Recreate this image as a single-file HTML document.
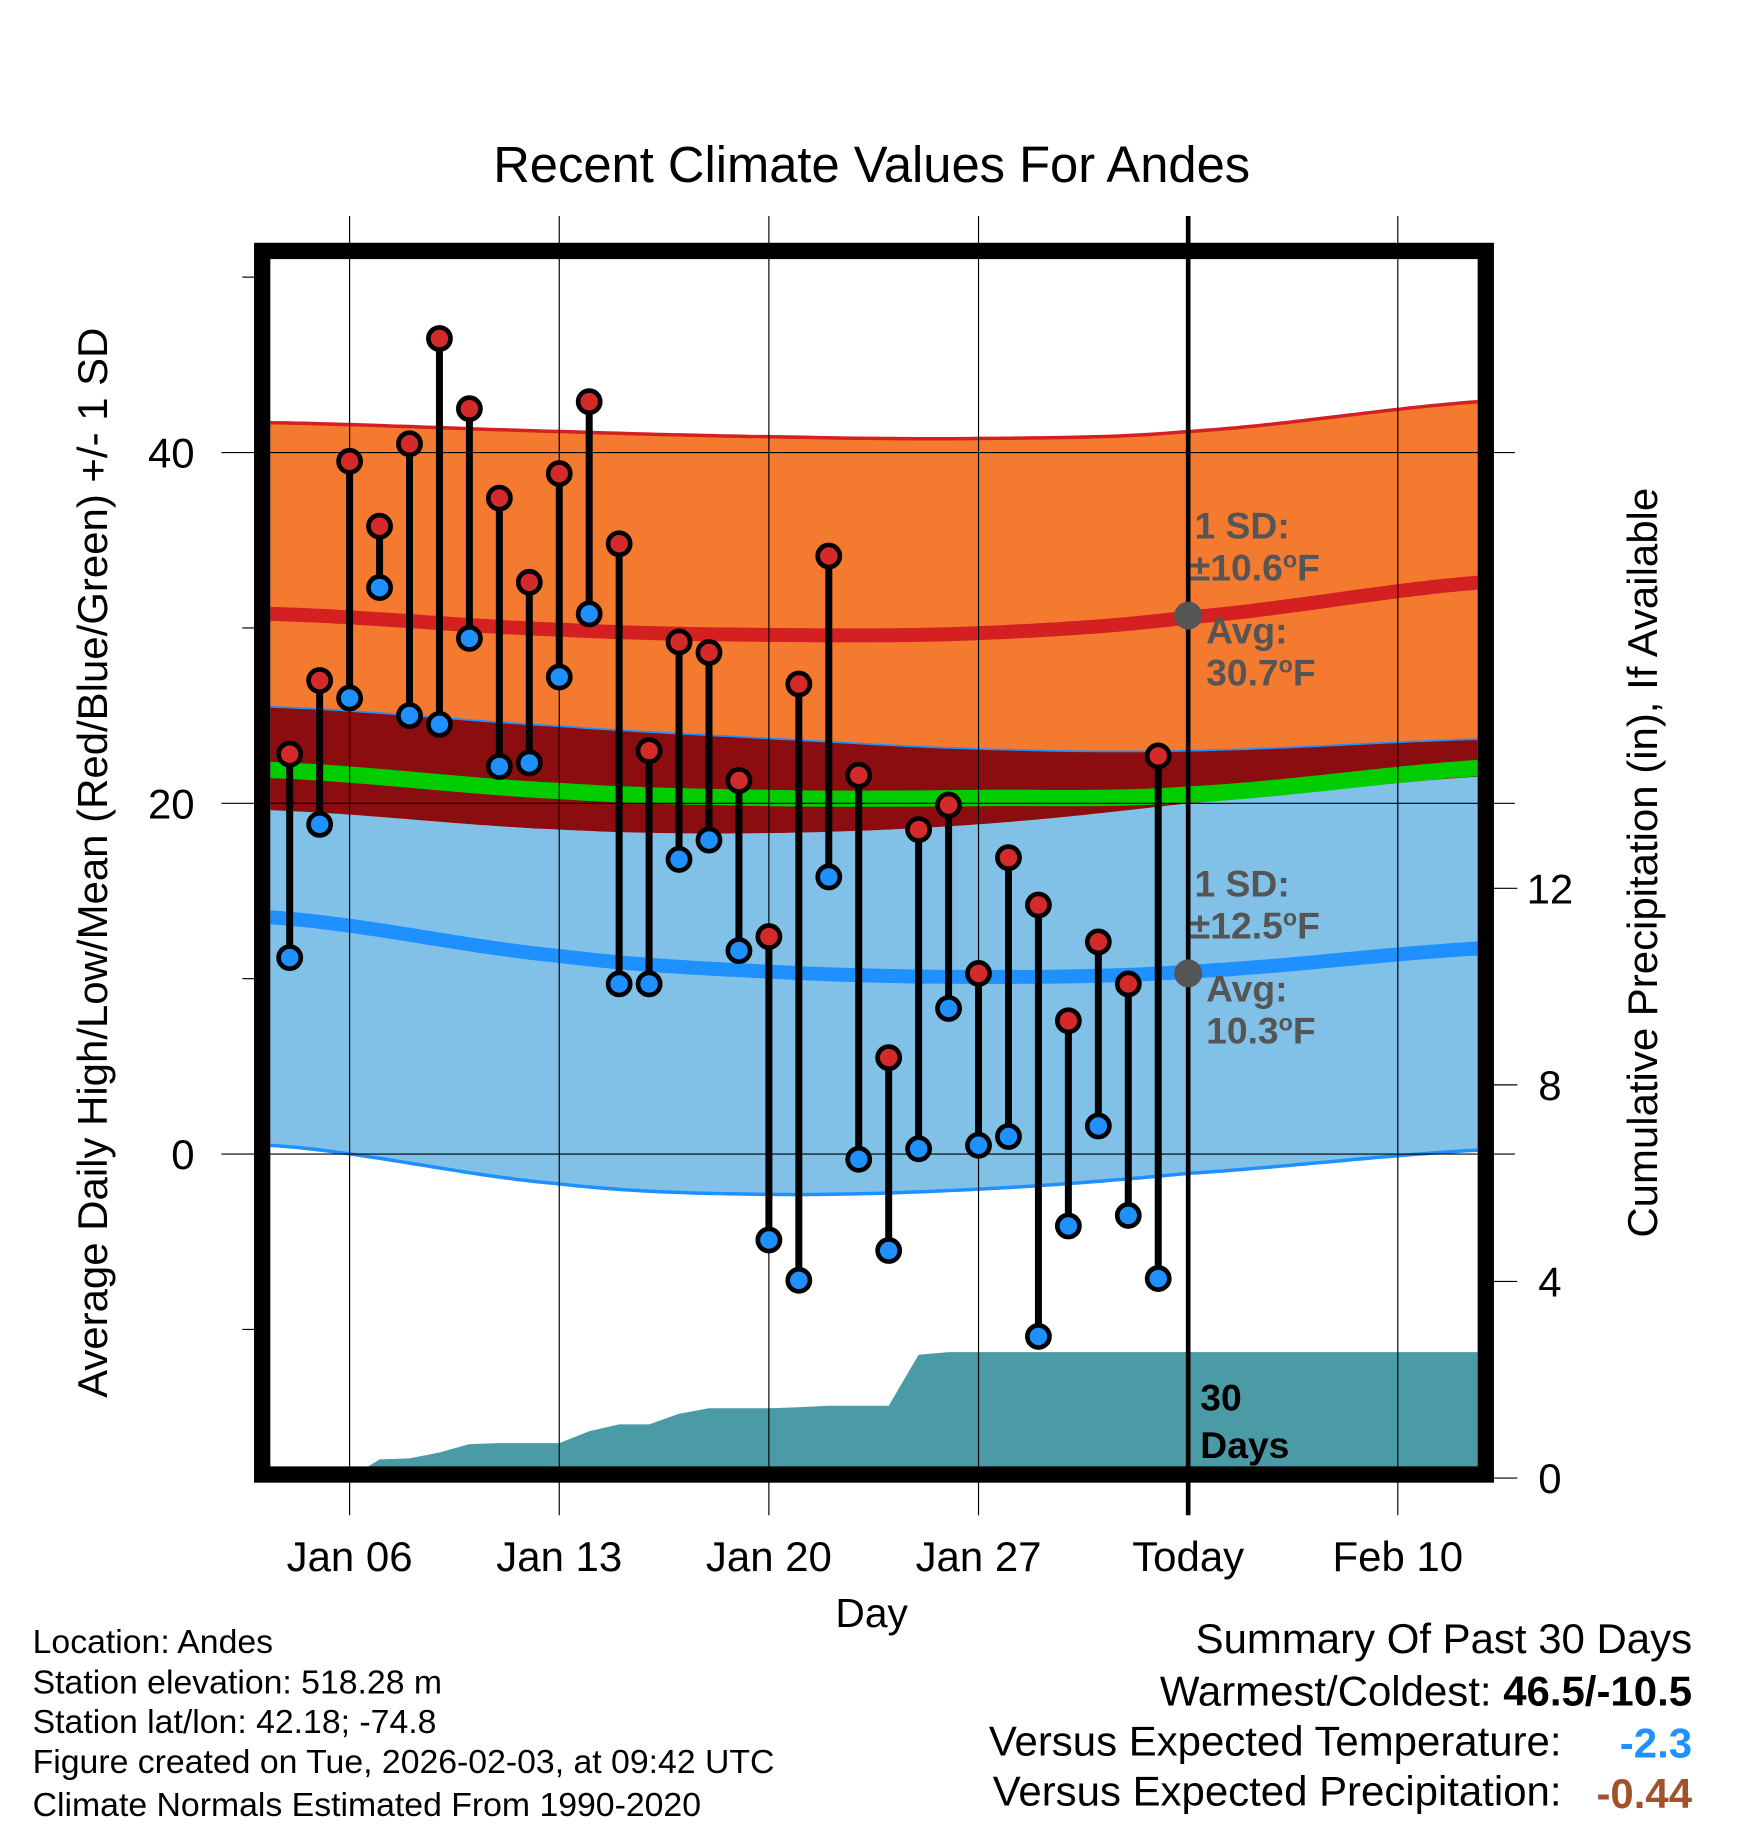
<!DOCTYPE html>
<html><head><meta charset="utf-8">
<style>html,body{margin:0;padding:0;background:#fff}svg{display:block}text{font-family:"Liberation Sans",Arial,sans-serif}</style>
</head><body>
<svg id="chart" width="1748" height="1828" viewBox="0 0 1500 1568" xmlns="http://www.w3.org/2000/svg">
<text x="748" y="156" font-size="43.5" text-anchor="middle">Recent Climate Values For Andes</text>
<defs><clipPath id="plotclip"><rect x="232" y="222" width="1036" height="1038"/></clipPath></defs>
<g id="bands" clip-path="url(#plotclip)"></g>
<g id="grid"></g>
<g id="marks"></g>
<g id="annot"></g>
<rect x="225" y="215" width="1050" height="1050" fill="none" stroke="#000" stroke-width="14"/>
<g id="axes"></g>
<text transform="translate(92,740) rotate(-90)" font-size="36" text-anchor="middle">Average Daily High/Low/Mean (Red/Blue/Green) +/- 1 SD</text>
<text transform="translate(1422,740) rotate(-90)" font-size="36" text-anchor="middle">Cumulative Precipitation (in), If Available</text>
<text x="748" y="1396" font-size="35" text-anchor="middle">Day</text>
<g font-size="29">
<text x="28" y="1418">Location: Andes</text>
<text x="28" y="1453">Station elevation: 518.28 m</text>
<text x="28" y="1487">Station lat/lon: 42.18; -74.8</text>
<text x="28" y="1521">Figure created on Tue, 2026-02-03, at 09:42 UTC</text>
<text x="28" y="1558">Climate Normals Estimated From 1990-2020</text>
</g>
<g font-size="36">
<text x="1452" y="1418" text-anchor="end">Summary Of Past 30 Days</text>
<text x="1452" y="1463" text-anchor="end">Warmest/Coldest: <tspan font-weight="bold">46.5/-10.5</tspan></text>
<text x="1340" y="1506" text-anchor="end">Versus Expected Temperature:</text>
<text x="1452" y="1508" text-anchor="end" font-weight="bold" fill="#1e90ff">-2.3</text>
<text x="1340" y="1549" text-anchor="end">Versus Expected Precipitation:</text>
<text x="1452" y="1551" text-anchor="end" font-weight="bold" fill="#a0522d">-0.44</text>
</g>
</svg>
<script>
// Observed data: day offset from Jan 04
const highs=[22.8,27.0,39.5,35.8,40.5,46.5,42.5,37.4,32.6,38.8,42.9,34.8,23.0,29.2,28.6,21.3,12.4,26.8,34.1,21.6,5.5,18.5,19.9,10.3,16.9,14.2,7.6,12.1,9.7,22.7];
const lows=[11.2,18.8,26.0,32.3,25.0,24.5,29.4,22.1,22.3,27.2,30.8,9.7,9.7,16.8,17.9,11.6,-4.9,-7.2,15.8,-0.3,-5.5,0.3,8.3,0.5,1.0,-10.4,-4.1,1.6,-3.5,-7.1];
// precipitation cumulative (days from Jan 04 through Feb 13)
const precip=[0,0,0,0.38,0.40,0.52,0.69,0.71,0.71,0.71,0.95,1.09,1.09,1.31,1.42,1.42,1.42,1.44,1.47,1.47,1.47,2.51,2.56,2.56,2.56,2.56,2.56,2.56,2.56,2.56,2.56,2.56,2.56,2.56,2.56,2.56,2.56,2.56,2.56,2.56,2.56,2.56];
// Normals sampled at day offsets (from Jan 04)
const normDays=[-0.65,9,16,23,30,40.65];
const hiUpper=[41.7,41.2,40.9,40.8,41.2,43.0];
const hiMean=[30.8,29.9,29.6,29.7,30.6,32.7];
const hiLower=[25.5,24.4,23.7,23.1,23.0,23.7];
const meanT=[21.9,20.7,20.3,20.3,20.5,22.1];
const loUpper=[19.6,18.5,18.3,18.8,20.0,21.6];
const loMean=[13.5,11.3,10.4,10.1,10.4,11.8];
const loLower=[0.5,-1.7,-2.3,-2.0,-1.1,0.3];
const xTickDays=[2,9,16,23,30,37];
const xTickLabels=["Jan 06","Jan 13","Jan 20","Jan 27","Today","Feb 10"];
const yTicks=[0,20,40];
const yMinor=[-10,10,30,50];
const y2Ticks=[0,4,8,12];

const NS="http://www.w3.org/2000/svg";
const X=d=>248.6+d*25.7;
const Y=v=>990-v*15.05;
const Y2=p=>1268-p*42.17;
function el(tag,attrs,parent){const e=document.createElementNS(NS,tag);for(const k in attrs)e.setAttribute(k,attrs[k]);parent.appendChild(e);return e;}
const bands=document.getElementById('bands'),grid=document.getElementById('grid'),marks=document.getElementById('marks'),annot=document.getElementById('annot'),axes=document.getElementById('axes');
function interp(arr,d){let i=0;while(i<normDays.length-2&&d>normDays[i+1])i++;
 const t=Math.min(Math.max((d-normDays[i])/(normDays[i+1]-normDays[i]),0),1);
 const p0=arr[Math.max(i-1,0)],p1=arr[i],p2=arr[i+1],p3=arr[Math.min(i+2,arr.length-1)];
 const t2=t*t,t3=t2*t;
 return 0.5*((2*p1)+(-p0+p2)*t+(2*p0-5*p1+4*p2-p3)*t2+(-p0+3*p1-3*p2+p3)*t3);}
function smooth(arr){const pts=[];for(let d=-0.65;d<=40.66;d+=0.25){pts.push([X(d),Y(interp(arr,d))]);}return pts;}
function area(a,b,fill,name){const p=smooth(a),q=smooth(b).reverse();const e=el('path',{d:'M'+p.concat(q).map(x=>x[0].toFixed(1)+','+x[1].toFixed(1)).join('L')+'Z',fill:fill},bands);}
function line(a,color,w,name){const p=smooth(a);const e=el('path',{d:'M'+p.map(x=>x[0].toFixed(1)+','+x[1].toFixed(1)).join('L'),fill:'none',stroke:color,'stroke-width':w},bands);}
area(hiUpper,hiLower,'#f47a30','high-sd-band');
area(loUpper,loLower,'#82c1e7','low-sd-band');
area(hiLower,loUpper,'#8c0d0f','overlap-band');
line(hiUpper,'#d42020',3,'high-upper-line');
line(hiLower,'#1e90ff',1.5,'high-lower-line');
line(loLower,'#1e90ff',3,'low-lower-line');
line(hiMean,'#d42020',12,'high-mean-line');
line(loMean,'#1e90ff',12,'low-mean-line');
line(meanT,'#00cc00',14,'mean-temp-line');
// precipitation area
{let pts=[[X(-0.65),1268]];precip.forEach((p,i)=>pts.push([X(i),Y2(p)]));pts.push([X(40.65),Y2(precip[precip.length-1])]);pts.push([X(40.65),1268]);
const e=el('path',{d:'M'+pts.map(x=>x[0].toFixed(1)+','+x[1].toFixed(1)).join('L')+'Z',fill:'#4a9ba5'},bands);

}
// grid
xTickDays.forEach((d,i)=>{const e=el('line',{x1:X(d),x2:X(d),y1:185,y2:1300,stroke:'#000','stroke-width':d===30?4:1},grid);


const t=el('text',{x:X(d),y:1348,'font-size':36,'text-anchor':'middle'},axes);t.textContent=xTickLabels[i];

});
yTicks.forEach(v=>{const e=el('line',{x1:190,x2:1300,y1:Y(v),y2:Y(v),stroke:'#000','stroke-width':1},grid);


const t=el('text',{x:167,y:Y(v)+13,'font-size':36,'text-anchor':'end'},axes);t.textContent=v;

});
yMinor.forEach(v=>{const e=el('line',{x1:208,x2:218,y1:Y(v),y2:Y(v),stroke:'#000','stroke-width':1},axes);

});
y2Ticks.forEach(p=>{const e=el('line',{x1:1282,x2:1302,y1:Y2(p),y2:Y2(p),stroke:'#000','stroke-width':1},axes);


const t=el('text',{x:1330,y:Y2(p)+13,'font-size':36,'text-anchor':'middle'},axes);t.textContent=p;

});
// stems and dots
highs.forEach((h,i)=>{const e=el('line',{x1:X(i),x2:X(i),y1:Y(h),y2:Y(lows[i]),stroke:'#000','stroke-width':6},marks);

});
highs.forEach((h,i)=>{const a=el('circle',{cx:X(i),cy:Y(h),r:9.5,fill:'#d42a2a',stroke:'#000','stroke-width':4},marks);


const b=el('circle',{cx:X(i),cy:Y(lows[i]),r:9.5,fill:'#1e90ff',stroke:'#000','stroke-width':4},marks);

});
// annotations
function txt(x,y,s,fill,name,size){const t=el('text',{x:x,y:y,'font-size':size||32,'font-weight':'bold',fill:fill},annot);t.innerHTML=s;

}
[[30.7,10.6,'high'],[10.3,12.5,'low']].forEach(([avg,sd,n])=>{const cy=Y(avg);
const c=el('circle',{cx:X(30),cy:cy,r:12,fill:'#555'},annot);


txt(1025,cy-66,'1 SD:','#555',n+'-sd-label');
txt(1021,cy-30,'±'+sd.toFixed(1)+'<tspan baseline-shift="super" font-size="20">o</tspan>F','#555',n+'-sd-value');
txt(1035,cy+24,'Avg:','#555',n+'-avg-label');
txt(1035,cy+60,avg.toFixed(1)+'<tspan baseline-shift="super" font-size="20">o</tspan>F','#555',n+'-avg-value');});
txt(1030,1210,'30','#000','days-label-1');
txt(1030,1251,'Days','#000','days-label-2');
</script>
</body></html>
